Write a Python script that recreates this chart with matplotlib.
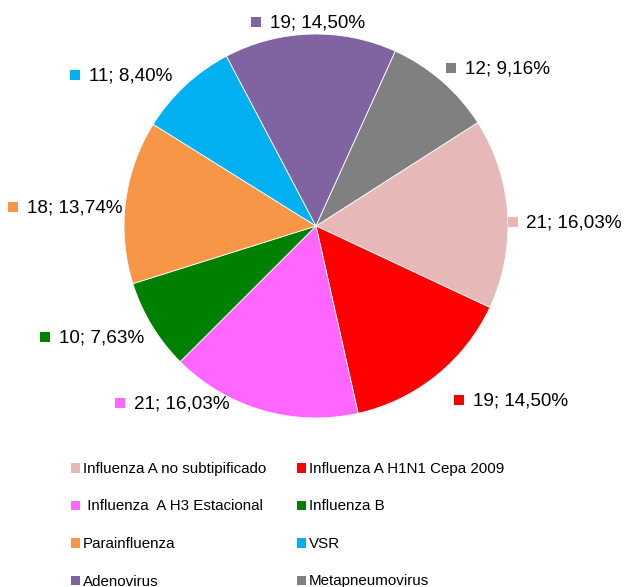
import matplotlib
matplotlib.use("Agg")
import matplotlib.pyplot as plt
from matplotlib.patches import Rectangle

categories = ["Influenza A no subtipificado", "Influenza A H1N1 Cepa 2009",
              " Influenza  A H3 Estacional", "Influenza B", "Parainfluenza",
              "VSR", "Adenovirus", "Metapneumovirus"]
values = [21, 19, 21, 10, 18, 11, 19, 12]
pct_labels = ["16,03%", "14,50%", "16,03%", "7,63%", "13,74%", "8,40%", "14,50%", "9,16%"]
colors = ["#E6B9B8", "#FF0000", "#FF66FF", "#008000", "#F79646", "#00B0F0", "#8064A2", "#808080"]

W, H = 627, 587
plt.rcParams['font.family'] = ['Liberation Sans', 'DejaVu Sans']
fig = plt.figure(figsize=(W / 100, H / 100), dpi=100)

def fx(px):
    return px / W

def fy(py):
    return 1 - py / H

cx, cy, r = 316, 226, 192
ax = fig.add_axes([fx(cx - r), fy(cy + r), 2 * r / W, 2 * r / H])
ax.pie(values, colors=colors, startangle=32.6, counterclock=False, radius=1,
       wedgeprops=dict(edgecolor="white", linewidth=0.6))
ax.set_xlim(-1, 1)
ax.set_ylim(-1, 1)
ax.set_aspect("equal")
ax.axis("off")

# data label anchor positions (pixel) of the marker square
label_pos = [(512.5, 222), (459, 400), (120, 403), (45, 337), (13, 207), (75, 75), (256, 22), (451, 68)]
fs = 13.6
sq = 10
for (px, py), v, p, c in zip(label_pos, values, pct_labels, colors):
    fig.patches.append(Rectangle((fx(px - sq / 2), fy(py + sq / 2)), sq / W, sq / H,
                                 transform=fig.transFigure, facecolor=c, edgecolor="none"))
    fig.text(fx(px + 14), fy(py + 1), f"{v}; {p}", fontsize=fs, va="center", ha="left", color="black")

# legend (row-wise, two columns)
col_x = [75.5, 301.5]
for i, (cat, c) in enumerate(zip(categories, colors)):
    row, col = divmod(i, 2)
    px = col_x[col]
    py = 468 + 37.5 * row
    lsq = 9.5
    fig.patches.append(Rectangle((fx(px - lsq / 2), fy(py + lsq / 2)), lsq / W, lsq / H,
                                 transform=fig.transFigure, facecolor=c, edgecolor="none"))
    fig.text(fx(px + 7.5), fy(py + 1), cat, fontsize=10.9,
             va="center", ha="left", color="black")

fig.savefig("out.png", dpi=100)
